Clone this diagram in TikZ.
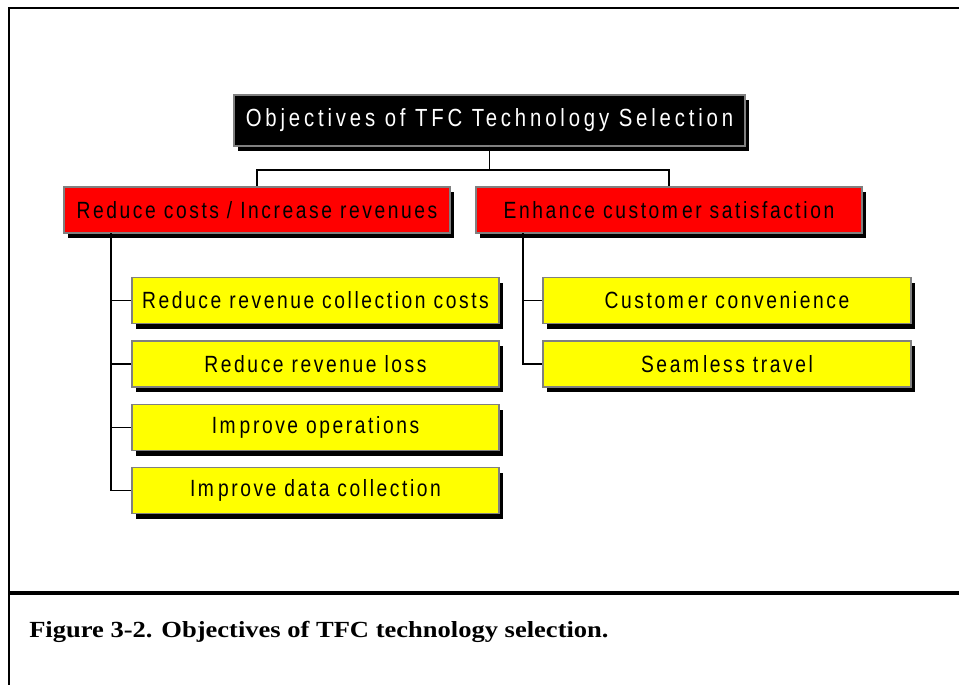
\documentclass[tikz,border=0pt]{standalone}
\usepackage{fontspec}
\setmainfont{Liberation Serif}
\newfontfamily\boxfont{Liberation Sans}[FakeStretch=0.82,LetterSpace=11]
\newfontfamily\titlefont{Liberation Sans}[FakeStretch=0.82,LetterSpace=15.5]
\newfontfamily\capfont{Liberation Serif}[FakeStretch=1.15]
\usetikzlibrary{shadows}
\definecolor{bordergray}{HTML}{808080}
\definecolor{boxred}{HTML}{FF0000}
\definecolor{boxyellow}{HTML}{FFFF00}
\tikzset{
  boxbase/.style={rectangle, draw=bordergray, line width=0.9pt, inner sep=0pt,
    minimum height=46*0.75pt,
    drop shadow={shadow xshift=3pt, shadow yshift=-3.75pt, opacity=1, fill=black},
    font=\boxfont\fontsize{17.6}{20}\selectfont},
  titlebox/.style={boxbase, fill=black, text=white, minimum width=511*0.75pt,
    minimum height=51*0.75pt, font=\titlefont\fontsize{18.6}{22}\selectfont},
  redbox/.style={boxbase, fill=boxred, minimum width=386*0.75pt},
  yelL/.style={boxbase, fill=boxyellow, minimum width=367*0.75pt},
  yelR/.style={boxbase, fill=boxyellow, minimum width=368*0.75pt},
  conn/.style={draw=black, line width=1.1pt},
  frame/.style={draw=black, line width=1.8pt},
}
\begin{document}
\begin{tikzpicture}[x=0.75pt, y=-0.75pt]
\useasboundingbox (0,0) rectangle (959,685);
\fill[white] (0,0) rectangle (959,685);
% frame
\draw[frame] (959,8) -- (9,8) -- (9,685);
\draw[draw=black, line width=2.4pt] (9,593) -- (959,593);

% nodes
\node[titlebox] (title) at (489.5,120.5) {Objectives of TFC Technology Selection};
\node[redbox] (redL) at (257,210) {Reduce costs / Increase revenues};
\node[redbox] (redR) at (669,210) {Enhance custom\kern3pt er satisfaction};

\node[yelL] (l1) at (315.5,300.5) {Reduce revenue collection costs};
\node[yelL] (l2) at (315.5,364) {Reduce revenue loss};
\node[yelL] (l3) at (315.5,427.5) {Im\kern3pt prove operations};
\node[yelL] (l4) at (315.5,490.5) {Im\kern3pt prove data collection};

\node[yelR] (r1) at (727,300.5) {Custom\kern3pt er convenience};
\node[yelR] (r2) at (727,364) {Seam\kern3pt less travel};

% connectors
\coordinate (bar) at (489.5,170);
\draw[conn] (title.south) -- (bar) -| (redL.north);
\draw[conn] (bar) -| (redR.north);
\coordinate (trunkL) at (111,233);
\draw[conn] (trunkL) |- (l4.west);
\draw[conn] (trunkL) |- (l1.west);
\draw[conn] (trunkL) |- (l2.west);
\draw[conn] (trunkL) |- (l3.west);
\coordinate (trunkR) at (523,233);
\draw[conn] (trunkR) |- (r2.west);
\draw[conn] (trunkR) |- (r1.west);

% caption
\node[anchor=base west, inner sep=0pt, font=\capfont\bfseries\fontsize{17.3}{20}\selectfont] (cap) at (29,637) {Figure 3-2. Objectives of TFC technology selection.};
\end{tikzpicture}
\end{document}
